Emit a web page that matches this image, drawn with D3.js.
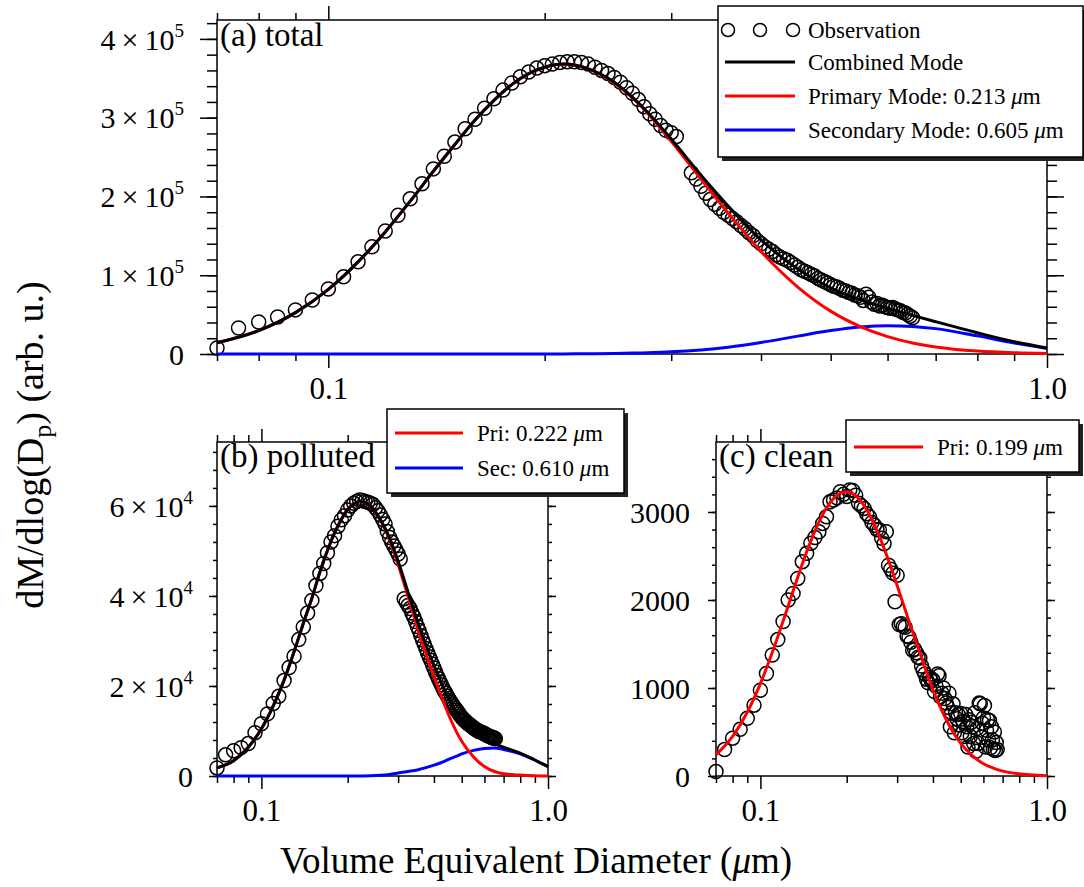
<!DOCTYPE html>
<html>
<head>
<meta charset="utf-8">
<script src="https://cdn.jsdelivr.net/npm/d3@7"></script>
<style>
  body { margin: 0; background: #fff; }
  svg text { font-family: "Liberation Serif", "Times New Roman", serif; fill: #000; }
</style>
</head>
<body>
<svg id="chart" width="1084" height="887"></svg>
<script>
// ---- data ----

// x axis ticks (shared by all three panels)
const xMajorTicks = [0.1, 1.0];
const xMajorLabels = ["0.1", "1.0"];
const xMinorTicks = [0.07, 0.08, 0.09, 0.2, 0.3, 0.4, 0.5, 0.6, 0.7, 0.8, 0.9];

// (a) total
const yTicksA = [0, 100000, 200000, 300000, 400000];
const yLabelsA = [["0"], ["1\u2009×\u200910", "5"], ["2\u2009×\u200910", "5"], ["3\u2009×\u200910", "5"], ["4\u2009×\u200910", "5"]];
const obsDiamA = [0.070,0.075,0.080,0.085,0.090,0.095,0.100,0.105,0.110,0.115,0.120,0.125,0.130,0.135,0.140,0.145,0.150,0.155,0.160,0.165,0.170,0.175,0.180,0.185,0.190,0.195,0.200,0.205,0.210,0.215,0.220,0.225,0.230,0.235,0.240,0.245,0.250,0.255,0.260,0.265,0.270,0.275,0.280,0.285,0.290,0.295,0.300,0.305,
  0.320,0.325,0.330,0.335,0.340,0.345,0.350,0.355,0.360,0.365,0.370,0.375,0.380,0.385,0.390,0.395,0.400,0.405,0.410,0.415,0.420,0.425,0.430,0.435,0.440,0.445,0.450,0.455,0.460,0.465,0.470,0.475,0.480,0.485,0.490,0.495,0.500,0.505,0.510,0.515,0.520,0.525,0.530,0.535,0.540,0.545,0.550,0.555,0.560,0.565,0.570,0.575,0.580,0.585,0.590,0.595,0.600,0.605,0.610,0.615,0.620,0.625,0.630,0.635,0.640,0.645,0.650];
const obsValA = [7600,33000,40600,47000,56000,68600,82500,98000,117000,136000,156000,176000,197000,216000,235000,251000,269000,286000,298000,312000,324000,335000,344000,352000,358000,363000,366000,368000,370000,371000,371000,370000,368000,364000,360000,356000,351000,345000,338000,331000,323000,314000,305000,298000,290000,284000,281000,276000,
  230000,222000,213000,204000,196000,190000,185000,180000,176000,172000,168000,163000,159000,154000,150000,144000,140000,136000,133000,130000,126000,123000,121000,119000,116000,113000,110000,107000,105000,103000,101000,99000,96000,94000,92000,90000,88000,86000,85000,83000,81000,80000,78000,77000,75000,74000,72000,68000,76000,72000,66000,63000,64000,61000,62000,60000,59000,58000,59000,57000,56000,55000,53000,52000,50000,48000,46000];
const fitDiamA = [0.07,0.08,0.09,0.10,0.11,0.12,0.13,0.14,0.15,0.16,0.17,0.18,0.19,0.20,0.213,0.23,0.25,0.27,0.30,0.33,0.36,0.40,0.45,0.50,0.55,0.60,0.65,0.70,0.80,0.90,1.00];
const primaryA = [14300,29700,52500,82000,117000,155000,194000,232000,266000,297000,322000,342000,356000,364000,368000,362000,344000,318000,270000,222000,179000,130000,85000,54400,34700,22000,14000,8900,3700,1600,700];
const secondaryA = [0,0,0,0,0,0,0,0,0,0,0,0,0,60,100,300,600,1400,2700,5200,8700,14600,22700,29700,34300,36000,35000,32200,23000,14000,7000];
const combinedA = [14300,29700,52500,82000,117000,155000,194000,232000,266000,297000,322000,342000,356000,364000,368000,362000,345000,319000,273000,227000,188000,145000,108000,84000,69000,58000,49000,41000,27000,15600,7700];

// (b) polluted
const yTicksB = [0, 20000, 40000, 60000];
const yLabelsB = [["0"], ["2\u2009×\u200910", "4"], ["4\u2009×\u200910", "4"], ["6\u2009×\u200910", "4"]];
const obsDiamB = [0.070,0.075,0.080,0.085,0.090,0.095,0.100,0.105,0.110,0.115,0.120,0.125,0.130,0.135,0.140,0.145,0.150,0.155,0.160,0.165,0.170,0.175,0.180,0.185,0.190,0.195,0.200,0.205,0.210,0.215,0.220,0.225,0.230,0.235,0.240,0.245,0.250,0.255,0.260,0.265,0.270,0.275,0.280,0.285,0.290,0.295,0.300,0.305,
  0.315,0.320,0.325,0.330,0.335,0.340,0.345,0.350,0.355,0.360,0.365,0.370,0.375,0.380,0.385,0.390,0.395,0.400,0.405,0.410,0.415,0.420,0.425,0.430,0.435,0.440,0.445,0.450,0.455,0.460,0.465,0.470,0.475,0.480,0.485,0.490,0.495,0.500,0.505,0.510,0.515,0.520,0.525,0.530,0.535,0.540,0.545,0.550,0.555,0.560,0.565,0.570,0.575,0.580,0.585,0.590,0.595,0.600,0.605,0.610,0.615,0.620,0.625,0.630,0.635,0.640,0.645,0.650,0.655];
const obsValB = [1800,4700,5600,6300,7200,9600,11600,13800,16100,17700,21200,24100,26600,30300,33100,36200,39000,42300,45000,47200,49600,52000,53400,55500,56900,57800,59100,60000,60600,61000,61300,61200,61000,60800,60600,60300,59600,58900,58000,57000,56000,54300,53000,52000,51100,50200,49300,48200,
  39400,38600,37900,37200,36200,35400,34300,33200,32300,31200,30200,29300,28300,27400,26500,25700,24800,24000,23100,22300,21600,20900,20200,19500,18900,18400,17800,17200,16700,16300,15800,15400,15000,14600,14200,13800,13400,13000,12700,12400,12200,11900,11700,11500,11300,11100,10900,10700,10500,10300,10200,10000,9900,9800,9700,9600,9500,9400,9300,9100,9000,8900,8800,8700,8600,8500,8500,8400,8300];
const fitDiamB = [0.07,0.08,0.09,0.10,0.11,0.12,0.13,0.14,0.15,0.16,0.17,0.18,0.19,0.20,0.222,0.24,0.26,0.28,0.30,0.325,0.35,0.375,0.40,0.425,0.45,0.475,0.50,0.55,0.60,0.65,0.70,0.80,0.90,1.00];
const primaryB = [1800,3400,6400,10500,15600,21300,27600,33900,39500,45300,50100,54000,57000,59200,61000,60000,56900,52500,47000,39800,33000,27200,22200,17600,13600,10300,7700,4200,2100,1000,500,200,50,0];
const secondaryB = [0,0,0,0,0,0,0,0,0,0,0,0,0,0,20,50,150,350,650,1000,1350,1850,2400,3000,3700,4300,4900,5700,6100,6200,5900,4900,3500,2100];
const combinedB = [1800,3400,6400,10500,15600,21300,27600,33900,39500,45300,50100,54000,57000,59200,61000,60000,57000,52900,47700,40800,34400,29100,24600,20600,17300,14600,12600,9900,8200,7200,6400,5100,3550,2100];

// (c) clean
const yTicksC = [0, 1000, 2000, 3000];
const yLabelsC = [["0"], ["1000"], ["2000"], ["3000"]];
const obsDiamC = [0.070,0.075,0.080,0.085,0.090,0.095,0.100,0.105,0.110,0.115,0.120,0.125,0.130,0.135,0.140,0.145,0.150,0.155,0.160,0.165,0.170,0.175,0.180,0.185,0.190,0.195,0.200,0.205,0.210,0.215,0.220,0.225,0.230,0.235,0.240,0.245,0.250,0.255,0.260,0.265,0.270,0.275,0.280,0.285,0.290,0.295,0.300,0.305,0.310,0.315,0.320,0.325,0.330,0.335,0.340,0.345,0.350,0.355,0.360,0.365,0.370,0.375,0.380,0.385,0.390,0.395,0.400,0.405,0.410,0.415,0.420,0.425,0.430,0.435,0.440,0.445,0.450,0.455,0.460,0.465,0.470,0.475,0.480,0.485,0.490,0.495,0.500,0.505,0.510,0.515,0.520,0.525,0.530,0.535,0.540,0.545,0.550,0.555,0.560,0.565,0.570,0.575,0.580,0.585,0.590,0.595,0.600,0.605,0.610,0.615,0.620,0.625,0.630,0.635,0.640,0.645,0.650,0.655,0.660,0.665,0.670];
const obsValC = [50,300,430,530,655,805,975,1165,1375,1550,1755,2000,2075,2245,2435,2530,2645,2710,2775,2870,2945,3115,3135,3160,3230,3200,3175,3250,3245,3190,3100,3070,3040,2980,2945,2880,2850,2800,2795,2700,2640,2775,2395,2350,2305,1980,2280,1720,1730,1700,1690,1590,1580,1520,1430,1440,1400,1350,1340,1250,1200,1160,1100,1060,1120,1080,1090,960,1020,1160,1140,900,940,1000,880,830,780,940,560,720,820,490,720,650,700,580,710,490,620,450,700,560,330,640,450,610,560,370,720,280,540,370,830,820,440,600,660,800,330,520,640,410,630,320,560,410,300,500,290,380,300];
const fitDiamC = [0.07,0.08,0.09,0.10,0.11,0.12,0.13,0.14,0.15,0.16,0.17,0.18,0.19,0.199,0.21,0.22,0.24,0.26,0.28,0.30,0.33,0.36,0.40,0.45,0.50,0.55,0.60,0.65,0.70,0.80,0.90,1.00];
const primaryC = [240,449,725,1050,1402,1759,2100,2408,2671,2884,3045,3154,3214,3230,3208,3154,2972,2725,2448,2164,1759,1402,980,610,370,230,140,90,55,25,10,3];

// legend entries
const legendA = [
  { kind: "obs", color: "#000", label: "Observation" },
  { kind: "line", color: "#000", label: "Combined Mode" },
  { kind: "line", color: "#ff0000", label: "Primary Mode: 0.213 μm" },
  { kind: "line", color: "#0000ff", label: "Secondary Mode: 0.605 μm" }
];
const legendB = [
  { kind: "line", color: "#ff0000", label: "Pri: 0.222 μm" },
  { kind: "line", color: "#0000ff", label: "Sec: 0.610 μm" }
];
const legendC = [
  { kind: "line", color: "#ff0000", label: "Pri: 0.199 μm" }
];

// ---- drawing ----
const svg = d3.select("#chart");

const panels = [
  { name: "(a) total", left: 217, right: 1047, top: 20, bottom: 354, yMax: 424000, yMinorStep: 20000,
    yTicks: yTicksA, yLabels: yLabelsA, yMajor: 17, yMinor: 10, yPad: 16, xMajor: 14, xMinor: 7, xPad: 9,
    obsD: obsDiamA, obsV: obsValA, fitD: fitDiamA,
    curves: [[secondaryA, "#0000ff"], [primaryA, "#ff0000"], [combinedA, "#000"]],
    legend: legendA, lbox: { x: 718, y: 6, w: 365, h: 151, rows: [30, 62, 96, 130], x1: 725, x2: 795, tx: 808 } },
  { name: "(b) polluted", left: 217, right: 548, top: 442, bottom: 776, yMax: 74200, yMinorStep: 4000,
    yTicks: yTicksB, yLabels: yLabelsB, yMajor: 8, yMinor: 4, yPad: 16, xMajor: 13, xMinor: 7, xPad: 10,
    obsD: obsDiamB, obsV: obsValB, fitD: fitDiamB,
    curves: [[secondaryB, "#0000ff"], [primaryB, "#ff0000"], [combinedB, "#000"]],
    legend: legendB, lbox: { x: 387, y: 409, w: 237, h: 84, rows: [433, 468], x1: 395, x2: 463, tx: 477 } },
  { name: "(c) clean", left: 716, right: 1047, top: 442, bottom: 776, yMax: 3795, yMinorStep: 200,
    yTicks: yTicksC, yLabels: yLabelsC, yMajor: 8, yMinor: 4, yPad: 18, xMajor: 13, xMinor: 7, xPad: 10,
    obsD: obsDiamC, obsV: obsValC, fitD: fitDiamC,
    curves: [[primaryC, "#ff0000"]],
    legend: legendC, lbox: { x: 846, y: 420, w: 233, h: 52, rows: [447], x1: 854, x2: 923, tx: 937 } }
];

// text with an italic mu
function muText(sel, str) {
  const parts = str.split("μ");
  sel.append("tspan").text(parts[0]);
  for (let i = 1; i < parts.length; i++) {
    sel.append("tspan").style("font-style", "italic").text("μ");
    sel.append("tspan").text(parts[i]);
  }
}

function drawPanel(p) {
  const x = d3.scaleLog().domain([0.07, 1]).range([p.left, p.right]);
  const y = d3.scaleLinear().domain([0, p.yMax]).range([p.bottom, p.top]);
  const g = svg.append("g");
  const yMinorTicks = d3.range(0, p.yMax, p.yMinorStep);

  // y axes, left with labels, right without
  g.append("g").attr("transform", `translate(${p.left},0)`)
    .call(d3.axisLeft(y).tickValues(yMinorTicks).tickSize(p.yMinor).tickFormat(""));
  const yl = g.append("g").attr("transform", `translate(${p.left},0)`)
    .call(d3.axisLeft(y).tickValues(p.yTicks).tickSize(p.yMajor).tickPadding(p.yPad));
  yl.selectAll(".tick text").each(function (d, i) {
    const t = d3.select(this).text(null)
      .attr("font-size", 30).attr("dy", "0.34em")
      .style("font-family", "'Liberation Serif', serif");
    const lab = p.yLabels[i];
    t.append("tspan").text(lab[0]);
    if (lab[1]) t.append("tspan").attr("dy", -13).attr("font-size", 19).text(lab[1]);
  });
  g.append("g").attr("transform", `translate(${p.right},0)`)
    .call(d3.axisRight(y).tickValues(yMinorTicks).tickSize(p.yMinor).tickFormat(""));
  g.append("g").attr("transform", `translate(${p.right},0)`)
    .call(d3.axisRight(y).tickValues(p.yTicks).tickSize(p.yMajor).tickFormat(""));

  // x axes, bottom with labels, top without
  g.append("g").attr("transform", `translate(0,${p.bottom})`)
    .call(d3.axisBottom(x).tickValues(xMinorTicks).tickSize(p.xMinor).tickFormat(""));
  g.append("g").attr("transform", `translate(0,${p.bottom})`)
    .call(d3.axisBottom(x).tickValues(xMajorTicks).tickSize(p.xMajor).tickPadding(p.xPad)
      .tickFormat((d, i) => xMajorLabels[i]))
    .selectAll(".tick text").attr("font-size", 31).style("font-family", "'Liberation Serif', serif");
  g.append("g").attr("transform", `translate(0,${p.top})`)
    .call(d3.axisTop(x).tickValues(xMinorTicks).tickSize(p.xMinor).tickFormat(""));
  g.append("g").attr("transform", `translate(0,${p.top})`)
    .call(d3.axisTop(x).tickValues(xMajorTicks).tickSize(p.xMajor).tickFormat(""));

  g.selectAll(".domain").remove();
  g.selectAll(".tick line").attr("stroke", "#000").attr("stroke-width", 1.5);

  g.append("rect")
    .attr("x", p.left).attr("y", p.top)
    .attr("width", p.right - p.left).attr("height", p.bottom - p.top)
    .attr("fill", "none").attr("stroke", "#000").attr("stroke-width", 1.5);

  // observations
  g.append("g").selectAll("circle")
    .data(p.obsD.map((d, i) => [d, p.obsV[i]]))
    .join("circle")
    .attr("cx", d => x(d[0]))
    .attr("cy", d => y(d[1]))
    .attr("r", 7)
    .attr("fill", "none")
    .attr("stroke", "#000")
    .attr("stroke-width", 1.5);

  // fitted modes
  const line = d3.line().x(d => x(d[0])).y(d => y(d[1])).curve(d3.curveMonotoneX);
  p.curves.forEach(([vals, color]) => {
    g.append("path")
      .datum(p.fitD.map((d, i) => [d, vals[i]]))
      .attr("d", line)
      .attr("fill", "none")
      .attr("stroke", color)
      .attr("stroke-width", 3);
  });

  g.append("text")
    .attr("x", p.left + 3).attr("y", p.top + (p.top < 100 ? 26 : 25))
    .attr("font-size", 33)
    .text(p.name);

  // legend box with a drop shadow
  const b = p.lbox;
  const lg = svg.append("g");
  lg.append("rect").attr("x", b.x + 4).attr("y", b.y + 4).attr("width", b.w).attr("height", b.h)
    .attr("fill", "#222");
  lg.append("rect").attr("x", b.x).attr("y", b.y).attr("width", b.w).attr("height", b.h)
    .attr("fill", "#fff").attr("stroke", "#000").attr("stroke-width", 1.5);
  p.legend.forEach((e, i) => {
    const cy = b.rows[i];
    if (e.kind === "obs") {
      lg.selectAll(null).data([b.x1 + 3, (b.x1 + b.x2) / 2, b.x2 - 2]).join("circle")
        .attr("cx", d => d).attr("cy", cy).attr("r", 6.5)
        .attr("fill", "none").attr("stroke", e.color).attr("stroke-width", 1.5);
    } else {
      lg.append("line").attr("x1", b.x1).attr("x2", b.x2).attr("y1", cy).attr("y2", cy)
        .attr("stroke", e.color).attr("stroke-width", 3);
    }
    const t = lg.append("text").attr("x", b.tx).attr("y", cy).attr("dy", "0.33em").attr("font-size", 23);
    muText(t, e.label);
  });
}

panels.forEach(drawPanel);

// axis titles
const yt = svg.append("text")
  .attr("transform", "translate(43,445) rotate(-90)")
  .attr("text-anchor", "middle")
  .attr("font-size", 38);
yt.append("tspan").text("dM/dlog(D");
yt.append("tspan").attr("font-size", 26).attr("dy", 8).text("p");
yt.append("tspan").attr("dy", -8).text(") (arb. u.)");

const xt = svg.append("text")
  .attr("x", 536).attr("y", 873)
  .attr("text-anchor", "middle")
  .attr("font-size", 37);
muText(xt, "Volume Equivalent Diameter (μm)");
</script>
</body>
</html>
